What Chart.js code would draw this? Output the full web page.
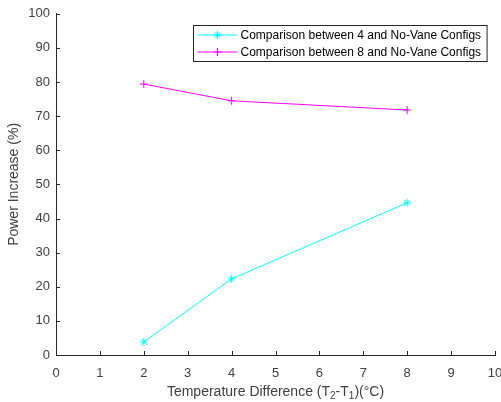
<!DOCTYPE html>
<html>
<head>
<meta charset="utf-8">
<script src="https://cdn.jsdelivr.net/npm/chart.js@4/dist/chart.umd.min.js"></script>
<style>
  html, body { margin: 0; padding: 0; background: #fff; }
  #wrap { position: relative; width: 501px; height: 402px; }
  #c { position: absolute; left: 0; top: 0; }
  #xtitle { position: absolute; left: 56px; width: 439px; top: 383px; text-align: center;
            font: 14px "Liberation Sans", Arial, sans-serif; color: #404040; white-space: nowrap; line-height: 16px; }
  #xtitle sub { font-size: 10px; vertical-align: -3px; line-height: 0; }
</style>
</head>
<body>
<div id="wrap">
  <canvas id="c" width="501" height="402"></canvas>
  <div id="xtitle">Temperature Difference (T<sub>2</sub>-T<sub>1</sub>)(°C)</div>
</div>
<script>
const xValues = [2, 4, 8];
const series4 = [3.8, 22.3, 44.6];
const series8 = [79.4, 74.5, 71.8];
const seriesLabels = ['Comparison between 4 and No-Vane Configs', 'Comparison between 8 and No-Vane Configs'];
const xTicks = [0,1,2,3,4,5,6,7,8,9,10];
const yTicks = [0,10,20,30,40,50,60,70,80,90,100];

const AXIS = '#262626';
const TEXT = '#404040';
const FONT = '"Liberation Sans", Arial, sans-serif';

function toPoints(ys) { return xValues.map((x, i) => ({ x: x, y: ys[i] })); }

const inwardTicks = {
  id: 'inwardTicks',
  afterDraw(chart) {
    const ctx = chart.ctx, xs = chart.scales.x, ys = chart.scales.y;
    ctx.save();
    ctx.strokeStyle = AXIS;
    ctx.lineWidth = 1;
    ctx.beginPath();
    xTicks.forEach(v => {
      const p = Math.round(xs.getPixelForValue(v)) + 0.5;
      ctx.moveTo(p, ys.bottom); ctx.lineTo(p, ys.bottom - 4);
    });
    yTicks.forEach(v => {
      const p = Math.round(ys.getPixelForValue(v)) + 0.5;
      ctx.moveTo(xs.left, p); ctx.lineTo(xs.left + 4, p);
    });
    ctx.stroke();
    ctx.restore();
  }
};

const boxLegend = {
  id: 'boxLegend',
  afterDraw(chart) {
    const ctx = chart.ctx, area = chart.chartArea;
    ctx.save();
    ctx.font = '12px ' + FONT;
    const tw = Math.max(...chart.data.datasets.map(d => ctx.measureText(d.label).width));
    const w = 47 + tw + 6, h = 36;
    const x0 = Math.round(area.right - 8 - w) + 0.5, y0 = Math.round(area.top + 11) + 0.5;
    ctx.fillStyle = '#fff';
    ctx.fillRect(x0, y0, w, h);
    ctx.strokeStyle = AXIS;
    ctx.lineWidth = 1;
    ctx.strokeRect(x0, y0, w, h);
    chart.data.datasets.forEach((d, i) => {
      const cy = y0 + 9.5 + i * 17;
      ctx.strokeStyle = d.borderColor;
      ctx.lineWidth = 1;
      ctx.beginPath(); ctx.moveTo(x0 + 4, cy); ctx.lineTo(x0 + 44, cy); ctx.stroke();
      Chart.helpers.drawPoint(ctx, { pointStyle: d.pointStyle, radius: d.pointRadius, rotation: 0, borderWidth: 1 }, x0 + 24, cy);
      ctx.fillStyle = '#000';
      ctx.textBaseline = 'middle';
      ctx.textAlign = 'left';
      ctx.fillText(d.label, x0 + 47, cy + 0.5);
    });
    ctx.restore();
  }
};

new Chart(document.getElementById('c'), {
  type: 'scatter',
  data: {
    datasets: [
      { label: seriesLabels[0], data: toPoints(series4), showLine: true, borderColor: '#00ffff', backgroundColor: '#00ffff',
        borderWidth: 1, pointStyle: 'star', pointRadius: 4, pointBorderWidth: 1, pointHoverRadius: 4 },
      { label: seriesLabels[1], data: toPoints(series8), showLine: true, borderColor: '#ff00ff', backgroundColor: '#ff00ff',
        borderWidth: 1, pointStyle: 'cross', pointRadius: 4, pointBorderWidth: 1, pointHoverRadius: 4 }
    ]
  },
  options: {
    responsive: false,
    animation: false,
    events: [],
    layout: { padding: { left: 0, top: 12, right: 6, bottom: 0 } },
    plugins: { legend: { display: false }, tooltip: { enabled: false } },
    scales: {
      x: {
        type: 'linear', min: 0, max: 10,
        afterBuildTicks(s) { s.ticks = xTicks.map(v => ({ value: v })); },
        afterFit(s) { s.height = 47; s.paddingRight = 6; s.paddingLeft = 0; },
        grid: { display: false, drawTicks: false },
        border: { display: true, color: AXIS, width: 1 },
        ticks: { color: TEXT, font: { family: FONT, size: 13 }, padding: 11, maxRotation: 0, autoSkip: false }
      },
      y: {
        type: 'linear', min: 0, max: 100,
        afterBuildTicks(s) { s.ticks = yTicks.map(v => ({ value: v })); },
        afterFit(s) { s.width = 56; },
        grid: { display: false, drawTicks: false },
        border: { display: true, color: AXIS, width: 1 },
        ticks: { color: TEXT, font: { family: FONT, size: 13 }, padding: 6, autoSkip: false },
        title: { display: true, text: 'Power Increase (%)', color: TEXT, font: { family: FONT, size: 14 }, padding: { top: 6, bottom: 0 } }
      }
    }
  },
  plugins: [inwardTicks, boxLegend]
});
</script>
</body>
</html>
